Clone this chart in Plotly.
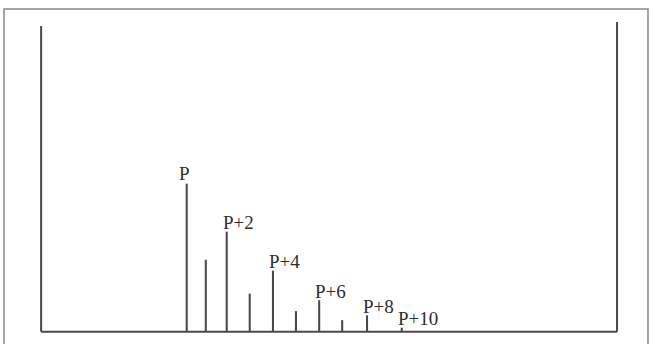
import plotly.graph_objects as go

# Isotope peak positions (offset from P, in mass units as drawn) and relative intensities
peak_pos = [0.0, 0.83, 1.74, 2.74, 3.75, 4.75, 5.76, 6.76, 7.84, 9.35]
peak_int = [100, 48.6, 67.6, 25.7, 41.2, 13.9, 21.3, 7.8, 11.1, 2.7]
label_idx = [0, 2, 4, 6, 8, 9]
label_txt = ["P", "P+2", "P+4", "P+6", "P+8", "P+10"]

# frame extent (data units)
frame_x = [-6.33, 18.71]
frame_top = [206.6, 209.3]

line_col = "#4a4a4a"
txt_col = "#2e2e2e"
font_family = "'Liberation Serif', 'Times New Roman', Times, serif"

fig = go.Figure()
fig.add_trace(go.Bar(x=peak_pos, y=peak_int, width=0.09,
                     marker=dict(color=line_col, line=dict(width=0)),
                     hoverinfo="skip"))

shapes = [
    dict(type="line", xref="x", yref="y", x0=frame_x[0], x1=frame_x[0], y0=0, y1=frame_top[0],
         line=dict(color=line_col, width=2)),
    dict(type="line", xref="x", yref="y", x0=frame_x[1], x1=frame_x[1], y0=0, y1=frame_top[1],
         line=dict(color=line_col, width=2)),
    dict(type="line", xref="x", yref="y", x0=frame_x[0], x1=frame_x[1], y0=0, y1=0,
         line=dict(color=line_col, width=2)),
    dict(type="rect", xref="paper", yref="paper", x0=4/651, x1=648/651, y0=-0.1, y1=1-9/344,
         line=dict(color="#888888", width=1.5)),
]

annotations = []
for k, (i, t) in enumerate(zip(label_idx, label_txt)):
    if k == 0:
        annotations.append(dict(x=peak_pos[i], y=peak_int[i], text=t, showarrow=False,
                                xanchor="center", yanchor="middle", xshift=-2, yshift=10,
                                font=dict(family=font_family, size=19, color=txt_col)))
    else:
        annotations.append(dict(x=peak_pos[i], y=peak_int[i], text=t, showarrow=False,
                                xanchor="left", yanchor="middle", xshift=-6, yshift=9,
                                font=dict(family=font_family, size=19, color=txt_col)))

fig.update_layout(
    width=651, height=344,
    margin=dict(l=0, r=0, t=0, b=0),
    paper_bgcolor="white", plot_bgcolor="white",
    showlegend=False,
    shapes=shapes,
    annotations=annotations,
    xaxis=dict(range=[-186.7/23, (651-186.7)/23], visible=False, fixedrange=True),
    yaxis=dict(range=[-(344-331.7)/1.48, 331.7/1.48], visible=False, fixedrange=True),
)

fig.write_html("out.html", config={"displayModeBar": False})
with open("out.html", "r", encoding="utf-8") as f:
    html = f.read()
html = html.replace("<body>", '<body style="margin:0;overflow:hidden">', 1)
with open("out.html", "w", encoding="utf-8") as f:
    f.write(html)
